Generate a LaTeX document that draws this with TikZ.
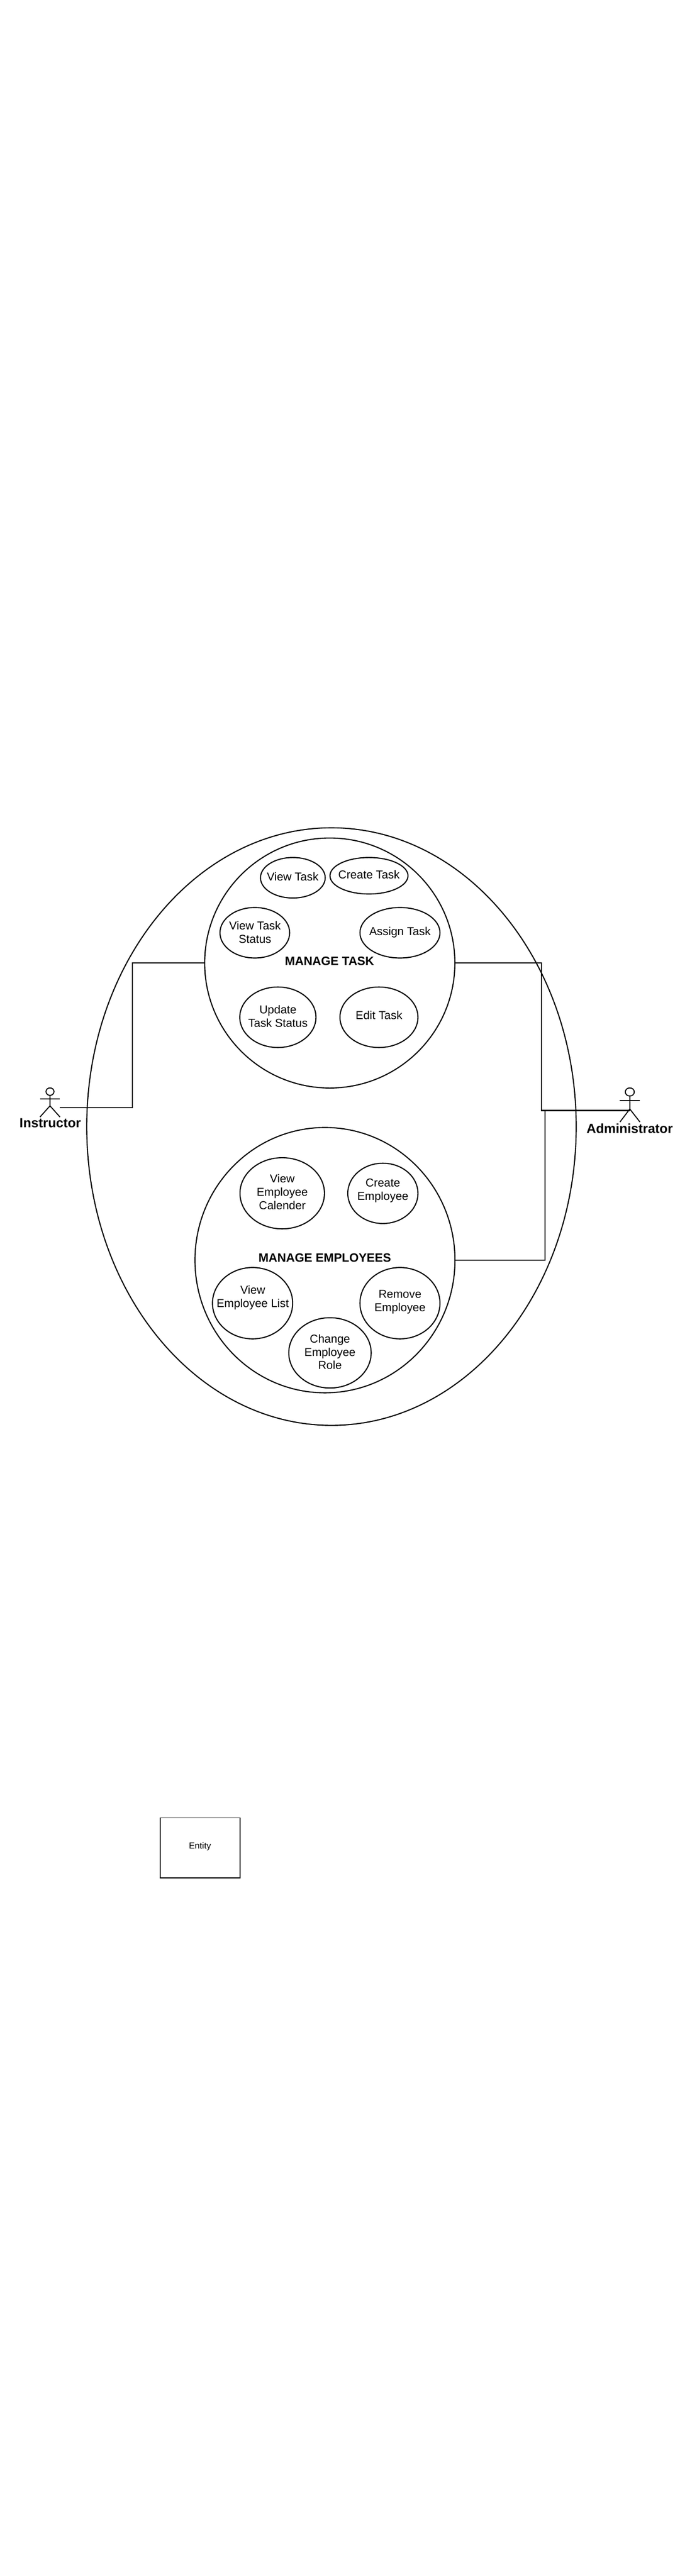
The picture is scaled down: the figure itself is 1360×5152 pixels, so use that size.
\documentclass[tikz,border=0pt]{standalone}
\usepackage{fontspec}
\setmainfont{Liberation Sans}
\usetikzlibrary{shapes.geometric}
\tikzset{
  ucshape/.style={draw=black,line width=2.2pt,ellipse,inner sep=0pt,outer sep=0pt},
  uctext/.style={align=center,inner sep=0pt,font=\fontsize{23}{26.7}\selectfont},
  grouptitle/.style={align=center,inner sep=0pt,font=\fontsize{24.2}{27}\selectfont\bfseries},
  actortitle/.style={align=center,inner sep=0pt,font=\fontsize{26.3}{30}\selectfont\bfseries},
  link/.style={draw=black,line width=2.2pt,line join=miter},
  actorline/.style={draw=black,line width=2pt},
}
% name, left, right, top, bottom
\newcommand{\ucell}[5]{\node[ucshape,minimum width={(#3)-(#2)},minimum height={(#5)-(#4)}] (#1) at ({((#2)+(#3))/2},{((#4)+(#5))/2}) {};}
\begin{document}
\begin{tikzpicture}[x=1pt,y=-1pt]
\path[use as bounding box,fill=white] (0,0) rectangle (1360,5152);
% boundary and groups
\ucell{outer}{173.5}{1152.5}{1655.6}{2850.7}
\ucell{mt}{409.4}{909.8}{1676}{2176}
\ucell{me}{390}{910}{2255}{2785.6}
% manage task
\ucell{viewtask}{521}{650.5}{1715}{1796}
\ucell{createtask}{660}{816}{1715}{1788}
\ucell{viewstatus}{440}{579.4}{1815}{1916}
\ucell{assign}{720}{880}{1815}{1916}
\ucell{update}{479.6}{632}{1974}{2095}
\ucell{edit}{680}{836}{1974}{2095}
\node[uctext] (tviewtask) at (585.4,1753.6) {View Task};
\node[uctext] (tcreatetask) at (738,1749.3) {Create Task};
\node[uctext] (tviewstatus) at (510,1864.8) {View Task\\Status};
\node[uctext] (tassign) at (800,1864.4) {Assign Task};
\node[uctext] (tupdate) at (556,2032.6) {Update\\Task Status};
\node[uctext] (tedit) at (758,2030.4) {Edit Task};
\node[grouptitle] (tmt) at (659,1921.6) {MANAGE TASK};
% manage employees
\ucell{calendar}{480}{649}{2315.4}{2457.7}
\ucell{createemp}{695.6}{836}{2326.4}{2447}
\ucell{emplist}{425}{585.4}{2535}{2677.7}
\ucell{removeemp}{720}{880}{2535}{2677.7}
\ucell{changerole}{577.6}{742.4}{2635.4}{2776}
\node[uctext] (tcalendar) at (564.6,2384) {View\\Employee\\Calender};
\node[uctext] (tcreateemp) at (765.8,2381) {Create\\Employee};
\node[uctext] (templist) at (505.6,2595.5) {View\\Employee List};
\node[uctext] (tremoveemp) at (800,2604) {Remove\\Employee};
\node[uctext] (tchangerole) at (660,2703.8) {Change\\Employee\\Role};
\node[grouptitle] (tme) at (649.6,2515.6) {MANAGE EMPLOYEES};
% instructor
\node[draw=black,line width=2pt,ellipse,inner sep=0pt,outer sep=0pt,minimum width=16pt,minimum height=15pt] (ihead) at (100,2183.2) {};
\draw[actorline] (ihead.south) -- (100,2211.7) -- (80,2234);
\draw[actorline] (100,2211.7) -- (120,2234);
\draw[actorline] (80,2197.7) -- (120,2197.7);
\node[actortitle] (tinstr) at (100.5,2246.5) {Instructor};
% administrator
\node[draw=black,line width=2pt,ellipse,inner sep=0pt,outer sep=0pt,minimum width=18pt,minimum height=16.3pt] (ahead) at (1259.7,2183.9) {};
\draw[actorline] (ahead.south) -- (1259.7,2218) -- (1240,2244);
\draw[actorline] (1259.7,2218) -- (1280,2244);
\draw[actorline] (1240,2201.3) -- (1280,2201.3);
\node[actortitle] (tadmin) at (1259.5,2256.7) {Administrator};
% connectors
\coordinate (instr) at (120,2215.7);
\coordinate (admin) at (1259.7,2221);
\coordinate (jl) at (264.5,1926);
\coordinate (jr) at (1083,1926);
\coordinate (jm) at (1090,2520.3);
\draw[link] (mt.west) -- (jl) |- (instr);
\draw[link] (mt.east) -- (jr) |- (admin);
\draw[link] (me.east) -- (jm) -- (jm |- admin);
% entity
\node[draw=black,line width=2pt,inner sep=0pt,outer sep=0pt,minimum width=160pt,minimum height=120pt] (entity) at (400,3695.7) {};
\node[inner sep=0pt,font=\fontsize{17.6}{20}\selectfont] (tentity) at (400,3693.5) {Entity};
\end{tikzpicture}
\end{document}
